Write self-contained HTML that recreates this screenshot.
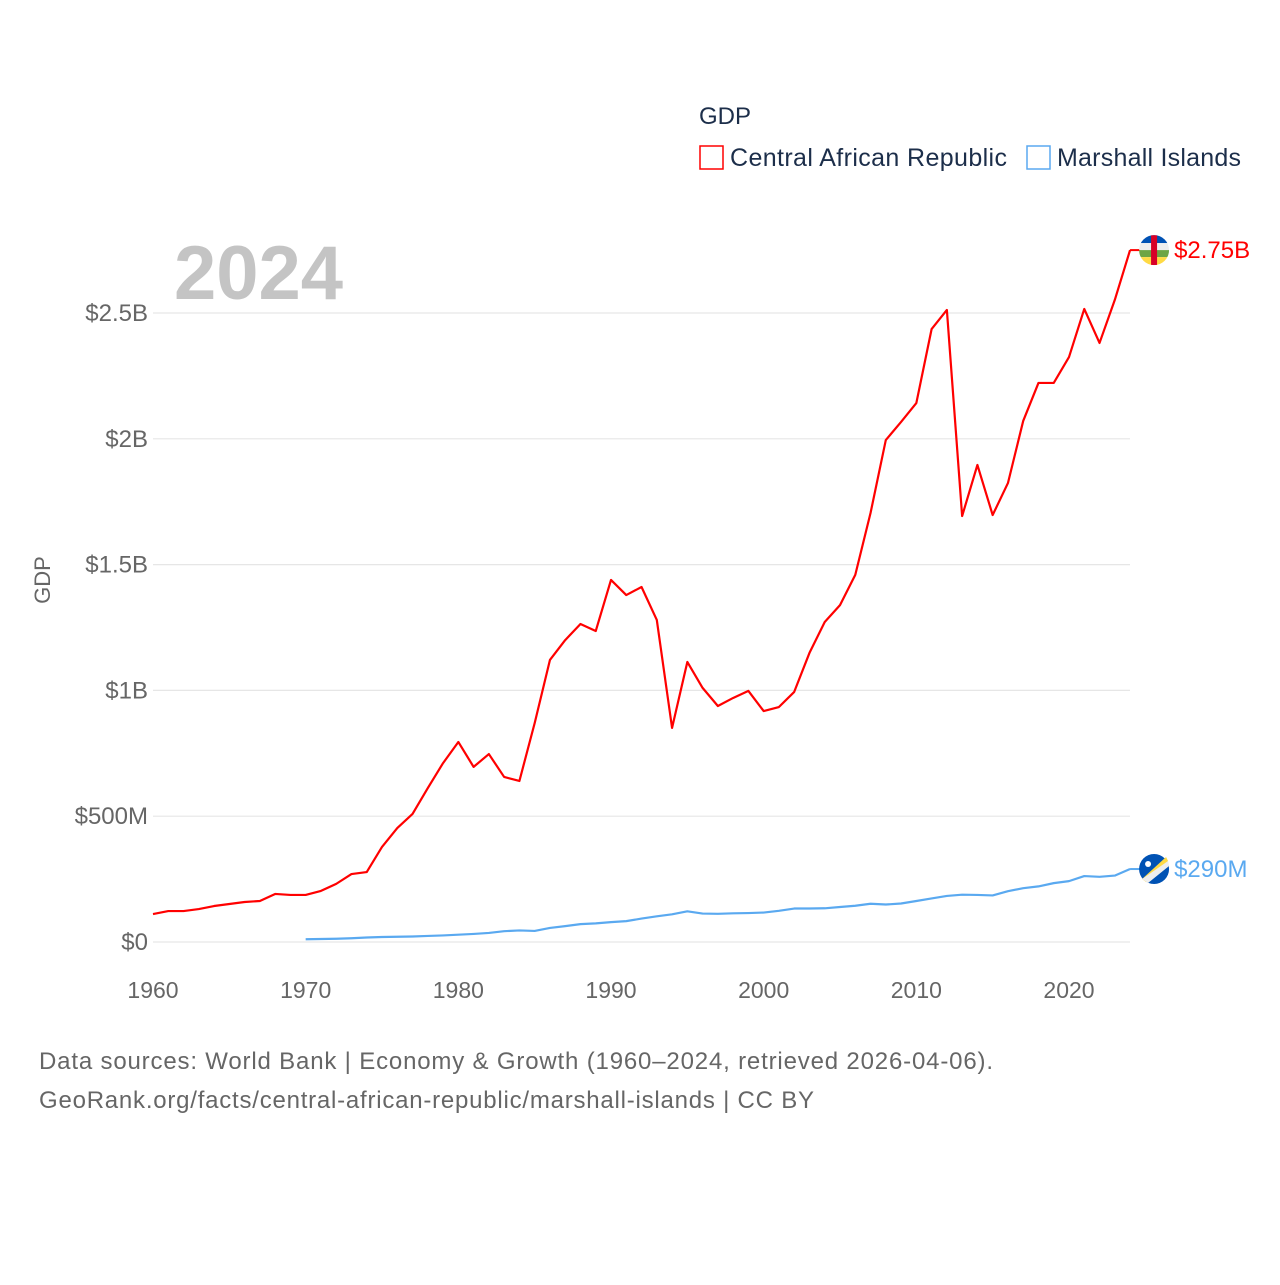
<!DOCTYPE html>
<html><head><meta charset="utf-8"><style>
body{margin:0;background:#fff;font-family:"Liberation Sans",sans-serif}
svg text{font-family:"Liberation Sans",sans-serif}
</style></head><body>
<svg id="chart" width="1280" height="1280" viewBox="0 0 1280 1280">
<rect width="1280" height="1280" fill="#fff"/>
<g id="grid"></g><g id="ylabels"></g><g id="xlabels"></g><g id="lines"></g>
<text x="174" y="299" font-size="76" font-weight="bold" fill="#c4c4c4">2024</text>
<text x="50" y="580" font-size="22" fill="#666" transform="rotate(-90 50 580)" text-anchor="middle">GDP</text>
<text x="699" y="124" font-size="24" fill="#1c2e4a">GDP</text>
<g><rect x="700" y="146" width="23" height="23" fill="none" stroke="#ff0000" stroke-width="1.5"/><text x="730" y="166" font-size="25" fill="#1c2e4a" textLength="277">Central African Republic</text></g>
<g><rect x="1027" y="146" width="23" height="23" fill="none" stroke="#5aa9f0" stroke-width="1.5"/><text x="1057" y="166" font-size="25" fill="#1c2e4a" textLength="184">Marshall Islands</text></g>
<text x="39" y="1069" font-size="24" fill="#666" textLength="954">Data sources: World Bank | Economy &amp; Growth (1960–2024, retrieved 2026-04-06).</text>
<text x="39" y="1108" font-size="24" fill="#666" textLength="775">GeoRank.org/facts/central-african-republic/marshall-islands | CC BY</text>
</svg>
<script>
const carYears=[1960,1961,1962,1963,1964,1965,1966,1967,1968,1969,1970,1971,1972,1973,1974,1975,1976,1977,1978,1979,1980,1981,1982,1983,1984,1985,1986,1987,1988,1989,1990,1991,1992,1993,1994,1995,1996,1997,1998,1999,2000,2001,2002,2003,2004,2005,2006,2007,2008,2009,2010,2011,2012,2013,2014,2015,2016,2017,2018,2019,2020,2021,2022,2023,2024];
const carGdpB=[0.111,0.123,0.123,0.131,0.143,0.151,0.159,0.163,0.191,0.187,0.187,0.203,0.231,0.270,0.278,0.378,0.453,0.509,0.612,0.711,0.795,0.696,0.747,0.656,0.640,0.870,1.121,1.200,1.264,1.236,1.439,1.379,1.411,1.280,0.851,1.113,1.010,0.938,0.970,0.998,0.918,0.934,0.994,1.149,1.272,1.339,1.459,1.705,1.995,2.067,2.142,2.436,2.512,1.693,1.896,1.697,1.824,2.071,2.222,2.222,2.325,2.516,2.381,2.552,2.750];
const mhlYears=[1970,1971,1972,1973,1974,1975,1976,1977,1978,1979,1980,1981,1982,1983,1984,1985,1986,1987,1988,1989,1990,1991,1992,1993,1994,1995,1996,1997,1998,1999,2000,2001,2002,2003,2004,2005,2006,2007,2008,2009,2010,2011,2012,2013,2014,2015,2016,2017,2018,2019,2020,2021,2022,2023,2024];
const mhlGdpM=[11,12,13,15,18,20,21,22,24,26,29,32,36,43,46,44,56,63,71,74,79,83,93,102,110,122,113,112,114,115,117,124,133,133,134,139,144,152,149,153,163,173,183,188,187,185,202,214,221,234,242,262,259,264,290];
const yTicks=[0,0.5,1,1.5,2,2.5];
const yTickLabels=["$0","$500M","$1B","$1.5B","$2B","$2.5B"];
const xTicks=[1960,1970,1980,1990,2000,2010,2020];
const NS="http://www.w3.org/2000/svg";
const X=yr=>153+(yr-1960)*(1069-153)/60;
const Y=b=>942-b*(942-313)/2.5;
function mk(tag,attrs,parent){const e=document.createElementNS(NS,tag);for(const k in attrs)e.setAttribute(k,attrs[k]);document.getElementById(parent).appendChild(e);return e;}
yTicks.forEach((v,i)=>{
 const l=mk('line',{x1:153,x2:1130,y1:Y(v),y2:Y(v),stroke:'#e6e6e6','stroke-width':1.2},'grid');
 
 
 const t=mk('text',{x:148,y:Y(v)+8,'font-size':24,fill:'#666','text-anchor':'end'},'ylabels');
 t.textContent=yTickLabels[i];
 
 
});
xTicks.forEach(v=>{
 const t=mk('text',{x:X(v),y:998,'font-size':23,fill:'#666','text-anchor':'middle'},'xlabels');
 t.textContent=v;
 
 
});
const p1=mk('polyline',{points:carYears.map((y,i)=>X(y)+','+Y(carGdpB[i])).join(' '),fill:'none',stroke:'#ff0000','stroke-width':2.2,'stroke-linejoin':'round'},'lines');


const p2=mk('polyline',{points:mhlYears.map((y,i)=>X(y)+','+Y(mhlGdpM[i]/1000)).join(' '),fill:'none',stroke:'#5aa9f0','stroke-width':2.2,'stroke-linejoin':'round'},'lines');


const cy=Y(carGdpB[carGdpB.length-1]), my=Y(mhlGdpM[mhlGdpM.length-1]/1000);
const ex=X(2024);
mk('line',{x1:ex,x2:ex+10,y1:cy,y2:cy,stroke:'#ff0000','stroke-width':2},'lines');
mk('line',{x1:ex,x2:ex+10,y1:my,y2:my,stroke:'#5aa9f0','stroke-width':2},'lines');
const fc=ex+24;
const g1=document.createElementNS(NS,'g');document.getElementById('lines').appendChild(g1);


g1.innerHTML=`<clipPath id="c1"><circle cx="${fc}" cy="${cy}" r="15"/></clipPath><g clip-path="url(#c1)"><rect x="${fc-15}" y="${cy-15}" width="30" height="8" fill="#0052b4"/><rect x="${fc-15}" y="${cy-7}" width="30" height="7" fill="#eee"/><rect x="${fc-15}" y="${cy}" width="30" height="7" fill="#6da544"/><rect x="${fc-15}" y="${cy+7}" width="30" height="8" fill="#ffda44"/><rect x="${fc-3}" y="${cy-15}" width="6" height="30" fill="#d80027"/></g>`;
const g2=document.createElementNS(NS,'g');document.getElementById('lines').appendChild(g2);


g2.innerHTML=`<circle cx="${fc}" cy="${my}" r="15" fill="#0052b4"/><polygon points="${fc-12},${my+10} ${fc+12},${my-12} ${fc+14},${my-8} ${fc-8},${my+13}" fill="#ffda44"/><polygon points="${fc-12},${my+10} ${fc+14},${my-8} ${fc+15},${my-3} ${fc-6},${my+14}" fill="#eee"/><circle cx="${fc-6}" cy="${my-5}" r="3" fill="#fff"/>`;
const l1=mk('text',{x:fc+20,y:cy+8,'font-size':24,fill:'#ff0000'},'lines');l1.textContent='$2.75B';


const l2=mk('text',{x:fc+20,y:my+8,'font-size':24,fill:'#5aa9f0'},'lines');l2.textContent='$290M';


</script>
</body></html>
